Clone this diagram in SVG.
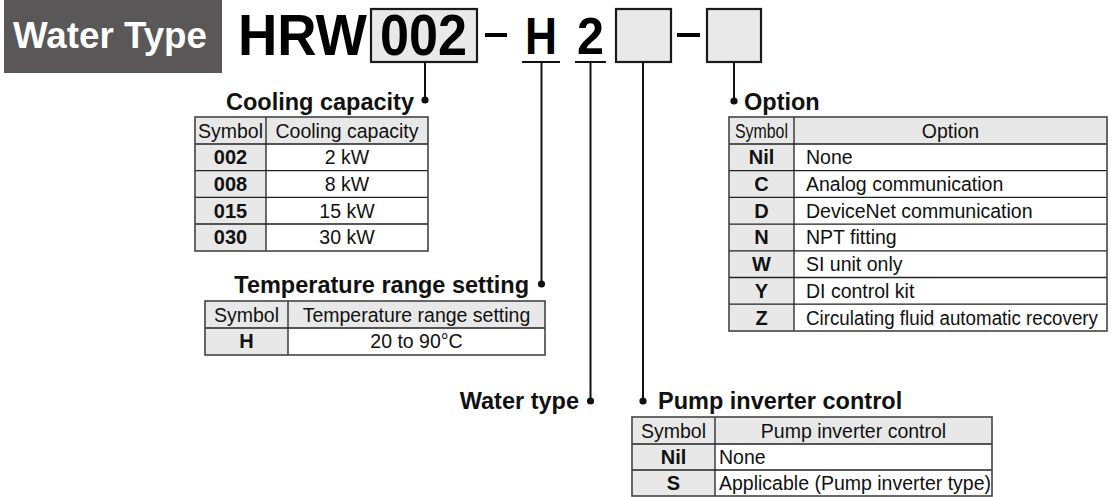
<svg xmlns="http://www.w3.org/2000/svg" width="1111" height="497" viewBox="0 0 1111 497">
<style>
.lbl{font-family:"Liberation Sans",Arial,sans-serif;font-weight:bold;font-size:23.5px;fill:#111}
.big{font-family:"Liberation Sans",Arial,sans-serif;font-weight:bold;fill:#000}
.t{font-family:"Liberation Sans",Arial,sans-serif;font-size:19.5px;fill:#111}
.b{font-family:"Liberation Sans",Arial,sans-serif;font-size:20px;font-weight:bold;fill:#111}
.g{fill:#e8e8e8}
.w{fill:#fff}
.ln{stroke:#222;stroke-width:1.3;fill:none}
.ob{stroke:#444;stroke-width:1.6;fill:none}
.box{fill:#e8e9e8;stroke:#1a1a1a;stroke-width:2.2}
.con{stroke:#111;stroke-width:2;fill:none}
.dot{fill:#111}
</style>

<g id="title">
<rect x="4" y="0" width="218" height="73" fill="#595757"/>
<text x="13" y="48" style="font-family:'Liberation Sans',Arial,sans-serif;font-weight:bold;font-size:36px;fill:#fff" textLength="194" lengthAdjust="spacingAndGlyphs">Water Type</text>
</g>

<g id="model-code">
<text class="big" x="238" y="55" font-size="57" textLength="129" lengthAdjust="spacingAndGlyphs">HRW</text>
<rect class="box" x="371" y="9" width="106" height="53"/>
<text class="big" x="380" y="55" font-size="57" textLength="87" lengthAdjust="spacingAndGlyphs">002</text>
<line x1="485" y1="35" x2="507" y2="35" stroke="#000" stroke-width="4"/>
<text class="big" x="525" y="54" font-size="52" textLength="32" lengthAdjust="spacingAndGlyphs">H</text>
<line x1="522" y1="62" x2="560" y2="62" stroke="#111" stroke-width="2"/>
<text class="big" x="577" y="54" font-size="52" textLength="27" lengthAdjust="spacingAndGlyphs">2</text>
<line x1="575" y1="62" x2="606" y2="62" stroke="#111" stroke-width="2"/>
<rect class="box" x="616" y="9" width="55" height="53"/>
<line x1="677" y1="35" x2="700" y2="35" stroke="#000" stroke-width="4"/>
<rect class="box" x="707" y="9" width="54" height="53"/>
</g>

<g id="connectors">
<line class="con" x1="425" y1="62" x2="425" y2="100"/>
<circle class="dot" cx="425" cy="100" r="3.6"/>
<line class="con" x1="541.5" y1="62" x2="541.5" y2="284"/>
<circle class="dot" cx="541.5" cy="284" r="3.6"/>
<line class="con" x1="590.5" y1="62" x2="590.5" y2="401"/>
<circle class="dot" cx="590.5" cy="401" r="3.6"/>
<line class="con" x1="643" y1="62" x2="643" y2="401"/>
<circle class="dot" cx="643" cy="401" r="3.6"/>
<line class="con" x1="734" y1="62" x2="734" y2="101"/>
<circle class="dot" cx="734" cy="101" r="3.6"/>
</g>

<g id="cooling-capacity">
<text class="lbl" x="414" y="109.5" text-anchor="end">Cooling capacity</text>
<rect class="g" x="195" y="117" width="233" height="27"/>
<rect class="g" x="195" y="144" width="71" height="107"/>
<rect class="w" x="266" y="144" width="162" height="107"/>
<path class="ln" d="M266 117V251M195 144H428M195 170.7H428M195 197.3H428M195 224H428"/>
<rect class="ob" x="195" y="117" width="233" height="134"/>
<text class="t" x="230.5" y="137.5" text-anchor="middle" font-size="19.3">Symbol</text>
<text class="t" x="347" y="137.5" text-anchor="middle" font-size="19.3">Cooling capacity</text>
<text class="b" x="230.5" y="164.3" text-anchor="middle">002</text>
<text class="t" x="347" y="164.3" text-anchor="middle" font-size="19.3">2 kW</text>
<text class="b" x="230.5" y="191" text-anchor="middle">008</text>
<text class="t" x="347" y="191" text-anchor="middle" font-size="19.3">8 kW</text>
<text class="b" x="230.5" y="217.6" text-anchor="middle">015</text>
<text class="t" x="347" y="217.6" text-anchor="middle" font-size="19.3">15 kW</text>
<text class="b" x="230.5" y="244.3" text-anchor="middle">030</text>
<text class="t" x="347" y="244.3" text-anchor="middle" font-size="19.3">30 kW</text>
</g>

<g id="temperature-range">
<text class="lbl" x="529" y="292.5" text-anchor="end">Temperature range setting</text>
<rect class="g" x="205" y="301" width="340" height="27"/>
<rect class="g" x="205" y="328" width="83" height="27"/>
<rect class="w" x="288" y="328" width="257" height="27"/>
<path class="ln" d="M288 301V355M205 328H545"/>
<rect class="ob" x="205" y="301" width="340" height="54"/>
<text class="t" x="246.5" y="321.5" text-anchor="middle" font-size="20">Symbol</text>
<text class="t" x="416.5" y="321.5" text-anchor="middle" font-size="20">Temperature range setting</text>
<text class="b" x="246.5" y="348.3" text-anchor="middle">H</text>
<text class="t" x="416.5" y="348.3" text-anchor="middle" font-size="20">20 to 90°C</text>
</g>

<g id="option">
<text class="lbl" x="744" y="110">Option</text>
<rect class="g" x="729" y="117" width="378" height="27"/>
<rect class="g" x="729" y="144" width="65" height="187"/>
<rect class="w" x="794" y="144" width="313" height="187"/>
<path class="ln" d="M794 117V331M729 144H1107M729 170.7H1107M729 197.4H1107M729 224.1H1107M729 250.8H1107M729 277.5H1107M729 304.2H1107"/>
<rect class="ob" x="729" y="117" width="378" height="214"/>
<text class="t" x="761.5" y="137.5" text-anchor="middle" font-size="18.5" textLength="53" lengthAdjust="spacingAndGlyphs">Symbol</text>
<text class="t" x="950.5" y="137.5" text-anchor="middle" font-size="18.5">Option</text>
<text class="b" x="761.5" y="164.3" text-anchor="middle">Nil</text>
<text class="t" x="806" y="164.3" font-size="18.5">None</text>
<text class="b" x="761.5" y="191" text-anchor="middle">C</text>
<text class="t" x="806" y="191" font-size="18.5">Analog communication</text>
<text class="b" x="761.5" y="217.7" text-anchor="middle">D</text>
<text class="t" x="806" y="217.7" font-size="18.5">DeviceNet communication</text>
<text class="b" x="761.5" y="244.4" text-anchor="middle">N</text>
<text class="t" x="806" y="244.4" font-size="18.5">NPT fitting</text>
<text class="b" x="761.5" y="271.1" text-anchor="middle">W</text>
<text class="t" x="806" y="271.1" font-size="18.5">SI unit only</text>
<text class="b" x="761.5" y="297.8" text-anchor="middle">Y</text>
<text class="t" x="806" y="297.8" font-size="18.5">DI control kit</text>
<text class="b" x="761.5" y="324.5" text-anchor="middle">Z</text>
<text class="t" x="806" y="324.5" font-size="18.5" textLength="292" lengthAdjust="spacingAndGlyphs">Circulating fluid automatic recovery</text>
</g>

<g id="water-type">
<text class="lbl" x="579" y="409" text-anchor="end">Water type</text>
</g>

<g id="pump-inverter">
<text class="lbl" x="658" y="408.5">Pump inverter control</text>
<rect class="g" x="632" y="417" width="360" height="27"/>
<rect class="g" x="632" y="444" width="83" height="52"/>
<rect class="w" x="715" y="444" width="277" height="52"/>
<path class="ln" d="M715 417V496M632 444H992M632 470H992"/>
<rect class="ob" x="632" y="417" width="360" height="79"/>
<text class="t" x="673.5" y="437.5" text-anchor="middle">Symbol</text>
<text class="t" x="853.5" y="437.5" text-anchor="middle">Pump inverter control</text>
<text class="b" x="673.5" y="464" text-anchor="middle">Nil</text>
<text class="t" x="719" y="464">None</text>
<text class="b" x="673.5" y="490" text-anchor="middle">S</text>
<text class="t" x="719" y="490">Applicable (Pump inverter type)</text>
</g>
</svg>
